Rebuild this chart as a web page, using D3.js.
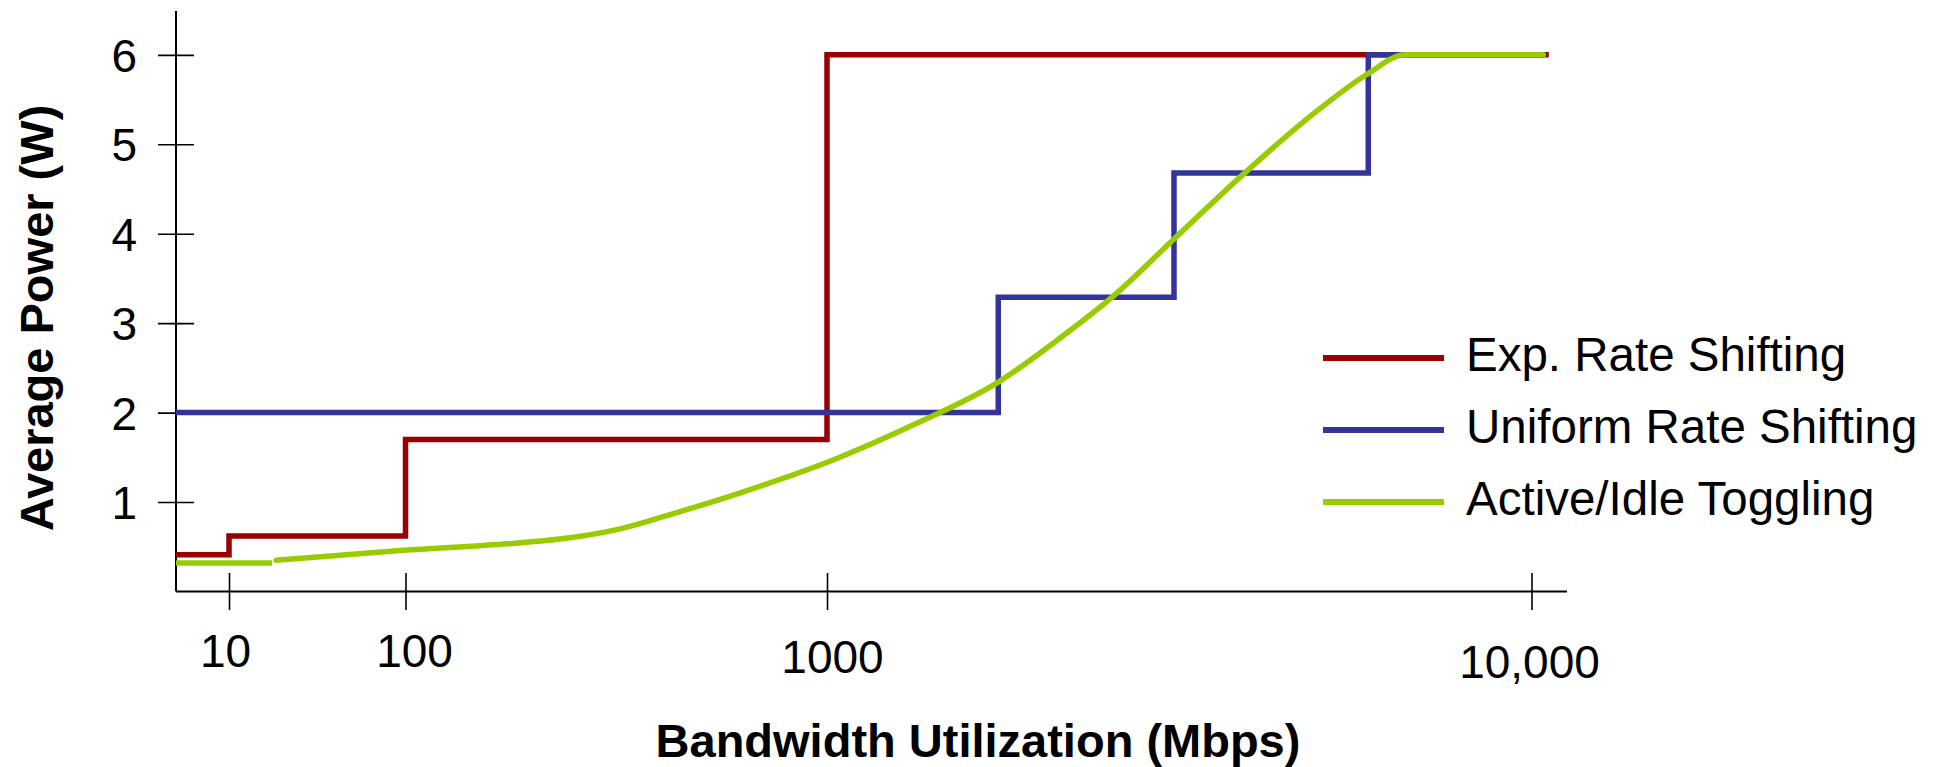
<!DOCTYPE html>
<html>
<head>
<meta charset="utf-8">
<script src="https://cdn.jsdelivr.net/npm/d3@7"></script>
<style>
  body { margin: 0; background: #fff; }
  text { font-family: "Liberation Sans", Arial, Helvetica, sans-serif; fill: #000; }
</style>
</head>
<body>
<script>
// bandwidth (Mbps) / average power (W)
const expRate = [[1, 0.41], [10, 0.62], [100, 1.7], [1000, 6], [10220, 6]];
const uniformRate = [[1, 2], [3188, 3.29], [5433, 4.68], [7915, 6], [10150, 6]];
const toggleFlat = [[1, 0.32], [32, 0.32]];
const toggleCurve = [
    [34, 0.35], [99, 0.46], [309, 0.53], [451, 0.6], [558, 0.7], [665, 0.86],
    [836, 1.14], [1077, 1.47], [2146, 1.88], [3168, 2.33], [4062, 2.89],
    [4654, 3.3], [5420, 3.93], [6362, 4.7], [7256, 5.37], [7895, 5.78],
    [8384, 6], [10151, 6]
];

const xTicks = [10, 100, 1000, 10000];
const xTickLabels = ["10", "100", "1000", "10,000"];
const yTicks = [1, 2, 3, 4, 5, 6];
const seriesNames = ["Exp. Rate Shifting", "Uniform Rate Shifting", "Active/Idle Toggling"];
const seriesColors = ["#990000", "#333399", "#99cc00"];

var margin = {top: 11, right: 372, bottom: 175.5, left: 176},
    width = 1939 - margin.left - margin.right,
    height = 767 - margin.top - margin.bottom;

var root = d3.select("body")
    .append("svg")
    .attr("width", 1939)
    .attr("height", 767);

var svg = root.append("g")
    .attr("transform", "translate(" + margin.left + "," + margin.top + ")");

// the axis of the original is hand spaced, so map each decade piecewise
var x = d3.scaleLinear()
    .domain([1, 10, 100, 1000, 10000, 10453])
    .range([0, 53, 229.5, 651, 1355.5, width]);

var y = d3.scaleLinear()
    .domain([0, 6.49])
    .range([height, 0]);

// x axis
var xAxis = svg.append("g")
    .attr("transform", "translate(0," + height + ")")
    .call(d3.axisBottom(x)
        .tickValues(xTicks)
        .tickFormat(function(d, i) { return xTickLabels[i]; })
        .tickSizeOuter(0));
xAxis.select(".domain").attr("stroke-width", 2).attr("d", "M0,0H" + width);
xAxis.selectAll(".tick line").attr("y1", -18.5).attr("y2", 18.5).attr("stroke-width", 1.6);
var xNudge = [[-4, 75.5], [8.5, 75.5], [5, 81.5], [-2.5, 86.5]];
xAxis.selectAll(".tick text")
    .attr("dy", null)
    .attr("x", function(d, i) { return xNudge[i][0]; })
    .attr("y", function(d, i) { return xNudge[i][1]; })
    .style("font-size", "46px")
    .style("font-family", "'Liberation Sans', Arial, sans-serif");

// y axis
var yAxis = svg.append("g")
    .call(d3.axisLeft(y).tickValues(yTicks).tickFormat(d3.format("d")).tickSizeOuter(0));
yAxis.select(".domain").attr("stroke-width", 2).attr("d", "M0,0V" + height);
yAxis.selectAll(".tick line").attr("x1", -18).attr("x2", 18).attr("stroke-width", 1.6);
yAxis.selectAll(".tick text")
    .attr("x", -39)
    .attr("dy", "0.36em")
    .style("font-size", "46px")
    .style("font-family", "'Liberation Sans', Arial, sans-serif");

// series
var step = d3.line()
    .x(function(d) { return x(d[0]); })
    .y(function(d) { return y(d[1]); })
    .curve(d3.curveStepAfter);
var smooth = d3.line()
    .x(function(d) { return x(d[0]); })
    .y(function(d) { return y(d[1]); })
    .curve(d3.curveMonotoneX);

svg.append("path").datum(expRate)
    .attr("d", step).attr("fill", "none")
    .attr("stroke", seriesColors[0]).attr("stroke-width", 5.5);
svg.append("path").datum(uniformRate)
    .attr("d", step).attr("fill", "none")
    .attr("stroke", seriesColors[1]).attr("stroke-width", 5.5);
svg.append("path").datum(toggleFlat)
    .attr("d", smooth).attr("fill", "none")
    .attr("stroke", seriesColors[2]).attr("stroke-width", 5.5);
svg.append("path").datum(toggleCurve)
    .attr("d", smooth).attr("fill", "none")
    .attr("stroke", seriesColors[2]).attr("stroke-width", 5.5)
    .attr("stroke-linecap", "round");

// legend
var legend = root.append("g").attr("transform", "translate(1323,358)");
var item = legend.selectAll("g")
    .data(seriesNames)
    .enter()
    .append("g")
    .attr("transform", function(d, i) { return "translate(0," + (i * 72) + ")"; });
item.append("line")
    .attr("x1", 0).attr("x2", 121)
    .attr("stroke", function(d, i) { return seriesColors[i]; })
    .attr("stroke-width", 6);
item.append("text")
    .attr("x", 143)
    .attr("y", 12.5)
    .style("font-size", "47.5px")
    .text(function(d) { return d; });

// axis titles
root.append("text")
    .attr("x", 978)
    .attr("y", 757)
    .attr("text-anchor", "middle")
    .style("font-size", "47px")
    .style("font-weight", "bold")
    .text("Bandwidth Utilization (Mbps)");

root.append("text")
    .attr("transform", "translate(53,318) rotate(-90)")
    .attr("text-anchor", "middle")
    .style("font-size", "47px")
    .style("font-weight", "bold")
    .text("Average Power (W)");
</script>
</body>
</html>
